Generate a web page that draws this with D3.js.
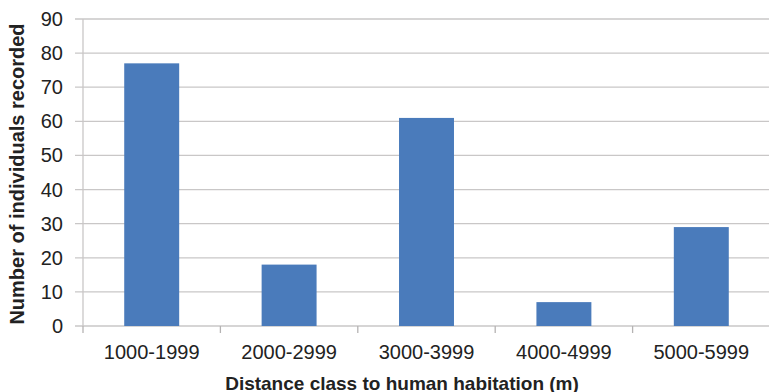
<!DOCTYPE html>
<html>
<head>
<meta charset="utf-8">
<script src="https://cdn.jsdelivr.net/npm/d3@7"></script>
<style>
  body { margin: 0; background: #fff; }
  text { font-family: "Liberation Sans", Arial, sans-serif; fill: #222; }
</style>
</head>
<body>
<div id="chart"></div>
<script>
const categories = ["1000-1999", "2000-2999", "3000-3999", "4000-4999", "5000-5999"];
const counts = [77, 18, 61, 7, 29];
const yTicks = [0, 10, 20, 30, 40, 50, 60, 70, 80, 90];

const width = 769,
    height = 392,
    margin = ({ top: 19, right: -1, bottom: 66, left: 83 });

const svg = d3.select("#chart")
    .append("svg")
    .attr("width", width)
    .attr("height", height);

let x = d3.scaleBand()
    .domain(categories)
    .range([margin.left, width - margin.right])
    .paddingInner(0.6)
    .paddingOuter(0.3);

let y = d3.scaleLinear()
    .domain([0, 90])
    .range([height - margin.bottom, margin.top]);

// gridlines
svg.append("g")
    .selectAll("line")
    .data(yTicks)
    .join("line")
    .attr("x1", margin.left - 8)
    .attr("x2", width)
    .attr("y1", d => y(d))
    .attr("y2", d => y(d))
    .attr("stroke", "#c9c7c7")
    .attr("stroke-width", 1.3);

// y-axis line
svg.append("line")
    .attr("x1", margin.left)
    .attr("x2", margin.left)
    .attr("y1", y(90))
    .attr("y2", y(0))
    .attr("stroke", "#c9c7c7")
    .attr("stroke-width", 1.3);

// category ticks
let step = x.step();
svg.append("g")
    .selectAll("line")
    .data(categories)
    .join("line")
    .attr("x1", d => x(d) + x.bandwidth() / 2 - step / 2)
    .attr("x2", d => x(d) + x.bandwidth() / 2 - step / 2)
    .attr("y1", y(0))
    .attr("y2", y(0) + 7)
    .attr("stroke", "#b5b3b3")
    .attr("stroke-width", 1.3);

// bars
svg.append("g")
    .selectAll("rect")
    .data(counts)
    .join("rect")
    .attr("x", (d, i) => x(categories[i]))
    .attr("width", x.bandwidth())
    .attr("y", d => y(d))
    .attr("height", d => y(0) - y(d))
    .attr("fill", "#4a7bbb");

// y tick labels
svg.append("g")
    .selectAll("text")
    .data(yTicks)
    .join("text")
    .attr("x", margin.left - 20)
    .attr("y", d => y(d))
    .attr("text-anchor", "end")
    .attr("dominant-baseline", "central")
    .style("font-size", "20px")
    .text(d => d);

// x tick labels
svg.append("g")
    .selectAll("text")
    .data(categories)
    .join("text")
    .attr("x", d => x(d) + x.bandwidth() / 2)
    .attr("y", y(0) + 26)
    .attr("text-anchor", "middle")
    .attr("dominant-baseline", "central")
    .style("font-size", "20px")
    .text(d => d);

// x-axis label
svg.append("text")
    .attr("x", 402)
    .attr("y", 383)
    .attr("text-anchor", "middle")
    .attr("dominant-baseline", "central")
    .style("font-size", "19px")
    .style("font-weight", "bold")
    .text("Distance class to human habitation (m)");

// y-axis label
svg.append("text")
    .attr("transform", "rotate(-90)")
    .attr("x", -174)
    .attr("y", 17)
    .attr("text-anchor", "middle")
    .attr("dominant-baseline", "central")
    .style("font-size", "20px")
    .style("font-weight", "bold")
    .text("Number of individuals recorded");
</script>
</body>
</html>
